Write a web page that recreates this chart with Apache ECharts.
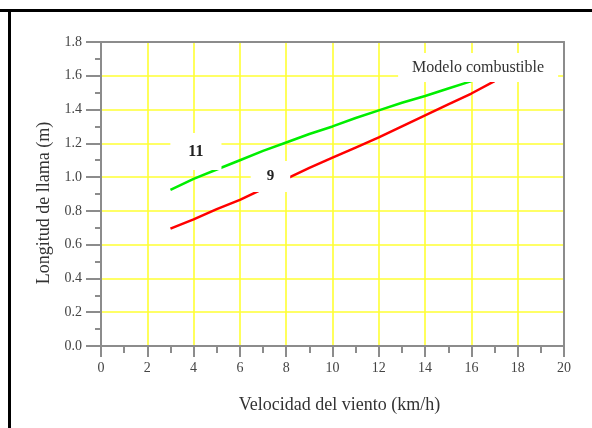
<!DOCTYPE html>
<html>
<head>
<meta charset="utf-8">
<script src="https://cdn.jsdelivr.net/npm/echarts@6/dist/echarts.min.js"></script>
<style>
  html, body { margin: 0; padding: 0; background: #fff; }
  #chart { width: 592px; height: 428px; }
</style>
</head>
<body>
<div id="chart"></div>
<script>
// Wind speed (km/h) for each fuel model curve
const speedModel11 = [3, 4, 5, 6, 7, 8, 9, 10, 11, 12, 13, 14, 15, 16];
const flameModel11 = [0.925, 0.99, 1.045, 1.10, 1.155, 1.205, 1.255, 1.30, 1.35, 1.395, 1.44, 1.48, 1.525, 1.568];
const speedModel9 = [3, 4, 5, 6, 7, 8, 9, 10, 11, 12, 13, 14, 15, 16, 17];
const flameModel9 = [0.695, 0.75, 0.81, 0.865, 0.93, 0.99, 1.055, 1.115, 1.175, 1.235, 1.30, 1.365, 1.43, 1.495, 1.568];
const curveLabels = ['11', '9'];
const legendTitle = 'Modelo combustible';
const xAxisTitle = 'Velocidad del viento (km/h)';
const yAxisTitle = 'Longitud de llama (m)';

const serif = '"Liberation Serif", "DejaVu Serif", serif';
const axisGrey = '#8c8c8c';

function pairs(xs, ys) { return xs.map((x, i) => [x, ys[i]]); }

const chart = echarts.init(document.getElementById('chart'), null, { renderer: 'canvas' });

const frameAxis = {
  type: 'value',
  axisLine: { show: true, onZero: false, lineStyle: { color: axisGrey, width: 2 } },
  axisTick: { show: false }, axisLabel: { show: false }, splitLine: { show: false }
};

chart.setOption({
  animation: false,
  backgroundColor: '#ffffff',
  textStyle: { fontFamily: serif },
  grid: { left: 101, top: 42, right: 28, bottom: 82 },
  graphic: [
    { type: 'rect', shape: { x: 0, y: 9, width: 592, height: 3 }, style: { fill: '#000' }, z: 100 },
    { type: 'rect', shape: { x: 8, y: 9, width: 3, height: 419 }, style: { fill: '#000' }, z: 100 }
  ],
  xAxis: [{
    type: 'value', min: 0, max: 20, interval: 2,
    name: xAxisTitle, nameLocation: 'middle', nameGap: 50,
    nameTextStyle: { fontFamily: serif, fontSize: 18, color: '#333', padding: [0, 0, 0, 14] },
    axisLine: { show: true, onZero: false, lineStyle: { color: axisGrey, width: 2 } },
    axisTick: { show: true, length: 11, lineStyle: { color: axisGrey, width: 2 } },
    minorTick: { show: true, splitNumber: 2, length: 7, lineStyle: { color: axisGrey, width: 2 } },
    axisLabel: { fontFamily: serif, fontSize: 14, color: '#444', margin: 15 },
    splitLine: { show: true, lineStyle: { color: '#ffff33', width: 1.6 } }
  }, Object.assign({ position: 'top', min: 0, max: 20 }, frameAxis)],
  yAxis: [{
    type: 'value', min: 0, max: 1.8, interval: 0.2,
    name: yAxisTitle, nameLocation: 'middle', nameGap: 48,
    nameTextStyle: { fontFamily: serif, fontSize: 18, color: '#333', padding: [0, 0, 0, -18] },
    axisLine: { show: true, onZero: false, lineStyle: { color: axisGrey, width: 2 } },
    axisTick: { show: true, length: 15, lineStyle: { color: axisGrey, width: 2 } },
    minorTick: { show: true, splitNumber: 2, length: 6, lineStyle: { color: axisGrey, width: 2 } },
    axisLabel: { fontFamily: serif, fontSize: 14, color: '#444', margin: 19,
      formatter: v => v.toFixed(1) },
    splitLine: { show: true, lineStyle: { color: '#ffff33', width: 1.6 } }
  }, Object.assign({ position: 'right', min: 0, max: 1.8 }, frameAxis)],
  series: [
    {
      type: 'line', name: curveLabels[0], data: pairs(speedModel11, flameModel11),
      showSymbol: false, lineStyle: { color: '#00ee00', width: 2.5 }, itemStyle: { color: '#00ee00' },
      markPoint: {
        symbol: 'circle', symbolSize: 0, silent: true,
        data: [
          { coord: [4.10, 1.152], value: curveLabels[0],
            label: { show: true, position: 'inside', formatter: curveLabels[0],
              fontFamily: serif, fontWeight: 'bold', fontSize: 16, color: '#222', lineHeight: 16,
              backgroundColor: '#fff', padding: [10, 18, 11, 18] } },
          { coord: [16.29, 1.649], value: legendTitle,
            label: { show: true, position: 'inside', formatter: legendTitle,
              fontFamily: serif, fontSize: 16, color: '#333', lineHeight: 16,
              backgroundColor: '#fff', padding: [2, 14, 11, 14] } }
        ]
      }
    },
    {
      type: 'line', name: curveLabels[1], data: pairs(speedModel9, flameModel9),
      showSymbol: false, lineStyle: { color: '#ff0000', width: 2.5 }, itemStyle: { color: '#ff0000' },
      markPoint: {
        symbol: 'circle', symbolSize: 0, silent: true,
        data: [
          { coord: [7.32, 1.004], value: curveLabels[1],
            label: { show: true, position: 'inside', formatter: curveLabels[1],
              fontFamily: serif, fontWeight: 'bold', fontSize: 15, color: '#222', lineHeight: 15,
              backgroundColor: '#fff', padding: [8, 16, 8, 16] } }
        ]
      }
    }
  ]
});
</script>
</body>
</html>
